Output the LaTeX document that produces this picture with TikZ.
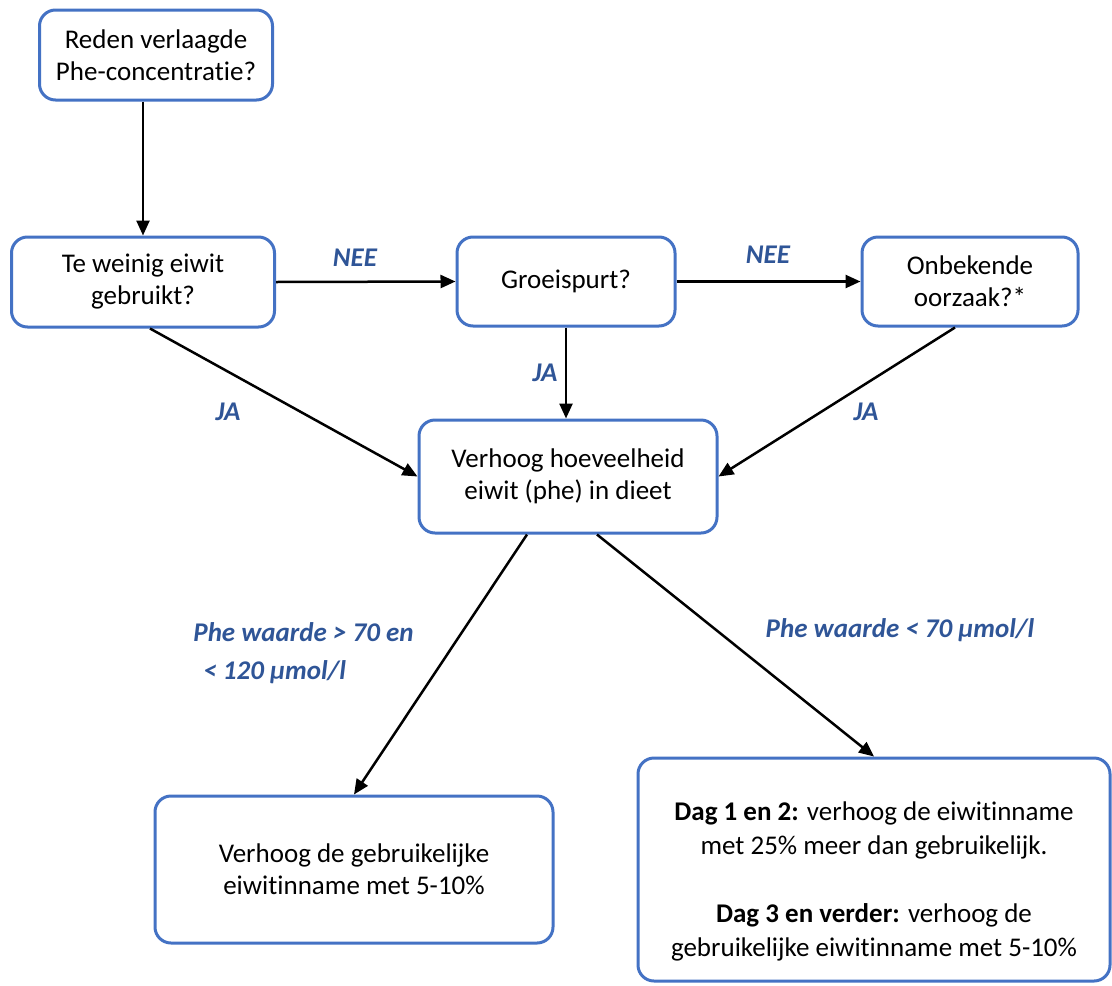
\documentclass[tikz,border=0pt]{standalone}
\usepackage{fontspec}
\setmainfont{Carlito}[Ligatures=NoCommon]
\usepackage{tikz}
\usetikzlibrary{arrows.meta,positioning,calc}
\definecolor{randblauw}{RGB}{68,114,196}
\definecolor{labelblauw}{RGB}{47,85,151}
\tikzset{
  stap/.style={draw=randblauw,line width=1.5pt,rounded corners=8pt,fill=white,
    align=center,inner sep=0pt,font=\fontsize{13.5}{16}\selectfont},
  keuze/.style={text=labelblauw,font=\fontsize{13.5}{16}\selectfont\bfseries\itshape,inner sep=0pt},
  pijl/.style={-{Triangle[length=7.5pt,width=6.5pt]},line width=1.25pt}
}

\begin{document}
\begin{tikzpicture}[x=0.5pt,y=-0.5pt]
		\useasboundingbox (0,0) rectangle (1112,985);
		% vragen
		\node[stap,minimum width=116.5pt,minimum height=45pt] (reden) at (156,55) {Reden verlaagde\\Phe-concentratie?};
		\node[stap,minimum width=131.5pt,minimum height=45pt] (weinig) at (143,282) {Te weinig eiwit\\gebruikt?};
		\node[stap,minimum width=109pt,minimum height=44.5pt] (groei) at (566,281.5) {Groeispurt?};
		\node[stap,minimum width=108pt,minimum height=44.5pt] (onbekend) at (970,281.5) {Onbekende\\oorzaak?*};
		% acties
		\node[stap,minimum width=149pt,minimum height=56.5pt] (verhoog) at (568,476.5) {Verhoog hoeveelheid\\eiwit (phe) in dieet};
		\node[stap,minimum width=199pt,minimum height=73.5pt] (matig) at (354,869.5) {Verhoog de gebruikelijke\\eiwitinname met 5-10\%};
		\node[stap,minimum width=236pt,minimum height=111.5pt,font=\fontsize{13.5}{17}\selectfont] (sterk) at (874,869.5)
			{\rule{0pt}{21pt}\textbf{Dag 1 en 2:} verhoog de eiwitinname\\met 25\% meer dan gebruikelijk.\\[17pt]\textbf{Dag 3 en verder:} verhoog de\\gebruikelijke eiwitinname met 5-10\%};
		% pijlen
		\draw[pijl] (reden.south -| weinig.north) -- (weinig.north);
		\draw[pijl] (weinig.east) -- (groei.west);
		\draw[pijl] (groei.east) -- (onbekend.west);
		\draw[pijl] (groei.south) -- (groei.south |- verhoog.north);
		\draw[pijl] ([xshift=3.5pt]weinig.south) -- (verhoog.west);
		\draw[pijl] ([xshift=-7.5pt]onbekend.south) -- (verhoog.east);
		\draw[pijl] ([xshift=-20.5pt]verhoog.south) -- (matig.north);
		\draw[pijl] ([xshift=14.5pt]verhoog.south) -- (sterk.north);
		% labels
		\node[keuze] (nee1) at (355,258) {NEE};
		\node[keuze] (nee2) at (768,255) {NEE};
		\node[keuze] (ja1) at (228,412) {JA};
		\node[keuze] (ja2) at (545,373) {JA};
		\node[keuze] (ja3) at (866,412) {JA};
		\node[keuze,anchor=west,align=left] (hoog) at (193,653) {Phe waarde > 70 en\\[3pt]\hspace*{5pt}< 120 µmol/l};
		\node[keuze] (laag) at (900,630) {Phe waarde < 70 µmol/l};
\end{tikzpicture}
\end{document}
